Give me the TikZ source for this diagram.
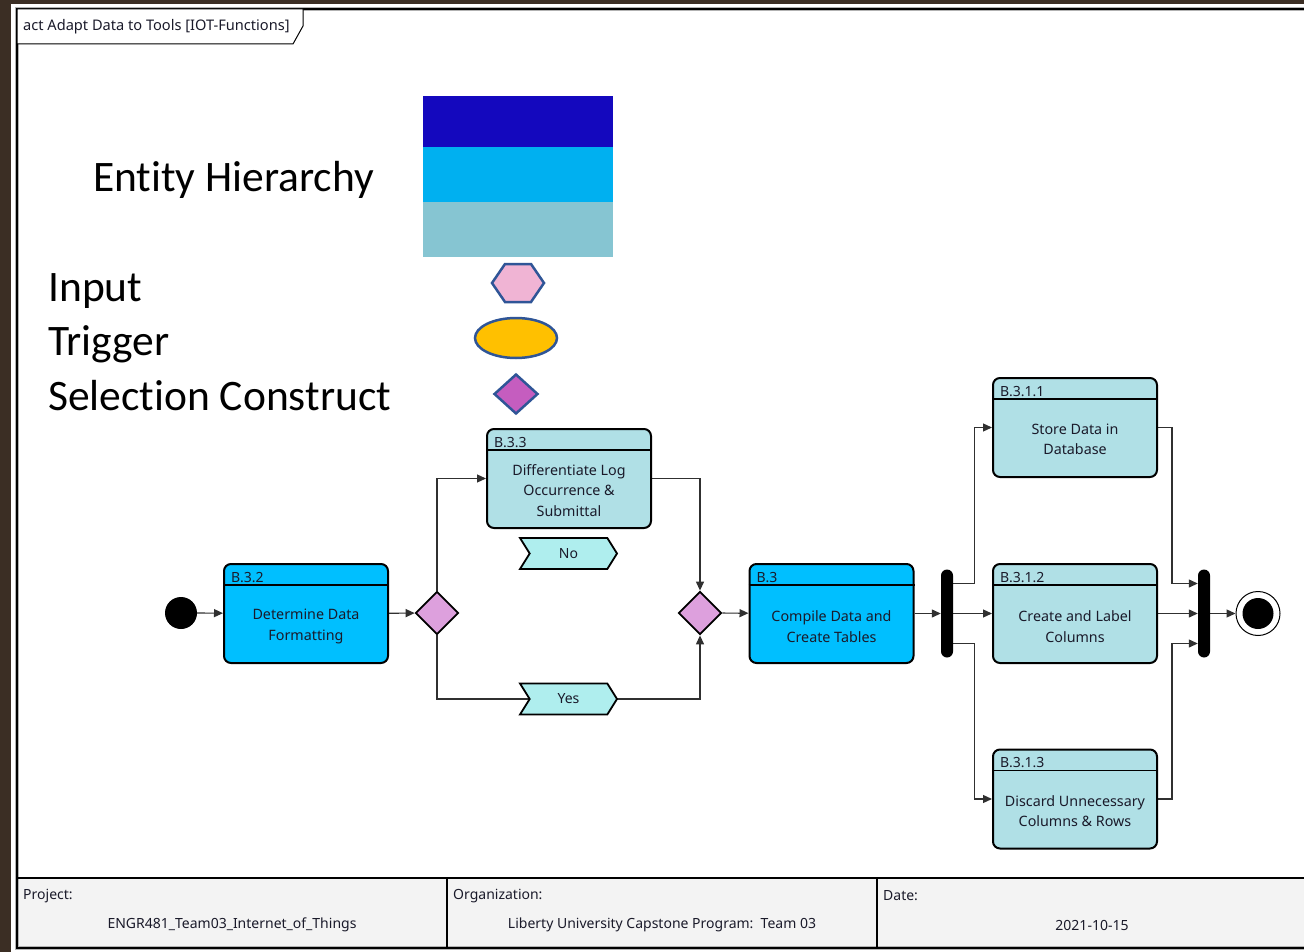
\documentclass[tikz,border=0pt]{standalone}
\usepackage{fontspec}
\setmainfont{Noto Sans}
\newfontfamily\calfont[Ligatures=NoCommon]{Carlito}
\usetikzlibrary{arrows.meta,shapes.geometric,shapes.symbols}
\definecolor{bgbrown}{HTML}{3B2E24}
\definecolor{actblue}{HTML}{00BFFF}
\definecolor{actlight}{HTML}{B0E0E6}
\definecolor{decfill}{HTML}{DDA0DD}
\definecolor{tagfill}{HTML}{AFEEEE}
\definecolor{legdark}{HTML}{1408BE}
\definecolor{legcyan}{HTML}{00B0F0}
\definecolor{legteal}{HTML}{86C5D2}
\definecolor{legpink}{HTML}{F0B4D4}
\definecolor{legedge}{HTML}{2F5597}
\definecolor{legyellow}{HTML}{FFC000}
\definecolor{legviolet}{HTML}{C55DBF}
\definecolor{txtcol}{HTML}{1A1A2A}
\definecolor{linecol}{HTML}{303030}
\definecolor{tbfill}{HTML}{F3F3F3}
\pgfdeclarelayer{back}
\pgfdeclarelayer{wires}
\pgfsetlayers{back,wires,main}
\tikzset{
  actbox/.style={draw=black, line width=2pt, rounded corners=7pt, minimum width=164pt, minimum height=99pt, inner sep=0pt},
  hdrline/.style={draw=black, line width=1.2pt},
  idlabel/.style={anchor=north west, inner sep=0pt, font=\fontsize{14}{16}\selectfont, text=txtcol},
  bodytxt/.style={align=center, inner sep=0pt, font=\fontsize{14.3}{20.5}\selectfont, text=txtcol},
  decision/.style={diamond, draw=black, line width=1.8pt, fill=decfill, minimum width=43pt, minimum height=43pt, inner sep=0pt, aspect=1},
  tagbox/.style={signal, signal to=east, signal from=west, signal pointer angle=116, draw=black, line width=1.8pt, fill=tagfill, minimum width=97pt, minimum height=31pt, inner sep=0pt, font=\fontsize{14}{16}\selectfont, text=txtcol},
  barnode/.style={fill=black, rounded corners=6pt, minimum width=12pt, minimum height=88pt, inner sep=0pt},
  conn/.style={draw=linecol, line width=1.2pt, -{Triangle[length=9pt,width=8pt]}},
  legtxt/.style={anchor=base west, inner sep=0pt, font=\calfont\fontsize{43.5}{48}\selectfont, text=black},
  tbtxt/.style={inner sep=0pt, font=\fontsize{14}{16}\selectfont, text=txtcol}
}
\begin{document}
\begin{tikzpicture}[x=1pt,y=-1pt]
\useasboundingbox (0,0) rectangle (1304,952);
\begin{pgfonlayer}{back}
\fill[bgbrown] (0,0) rectangle (1304,952);
\fill[white] (11,4) rectangle (1304,952);
\fill[tbfill] (17,878) rectangle (1304,948);
\draw[gray!60, line width=4pt] (1304,9) -- (17,9) -- (17,948) -- (1304,948);
\draw[black, line width=2pt] (1304,9) -- (17,9) -- (17,948) -- (1304,948);
\draw[black, line width=2pt] (17,878) -- (1304,878);
\draw[black, line width=2pt] (447,878) -- (447,948);
\draw[black, line width=2pt] (877,878) -- (877,948);
\draw[black, line width=1pt, fill=white] (17,9) -- (303,9) -- (303,26) -- (293,44) -- (17,44) -- cycle;
\end{pgfonlayer}
% title tab and title block
\node[anchor=west, inner sep=0pt, font=\fontsize{14.6}{16}\selectfont, text=txtcol] (title) at (23,27) {act Adapt Data to Tools [IOT-Functions]};
\node[tbtxt, anchor=west] (projl) at (23,896) {Project:};
\node[tbtxt] (projv) at (232,925) {ENGR481\_Team03\_Internet\_of\_Things};
\node[tbtxt, anchor=west] (orgl) at (453,896) {Organization:};
\node[tbtxt] (orgv) at (662,925) {Liberty University Capstone Program:\ \ Team 03};
\node[tbtxt, anchor=west] (datel) at (883,896) {Date:};
\node[tbtxt] (datev) at (1092,925) {2021-10-15};
% legend
\fill[legdark] (423,96) rectangle (613,147);
\fill[legcyan] (423,147) rectangle (613,202);
\fill[legteal] (423,202) rectangle (613,257);
\node[legtxt] (lent) at (93,192) {Entity Hierarchy};
\node[legtxt] (linp) at (48,301) {Input};
\node[legtxt] (ltrg) at (48,355) {Trigger};
\node[legtxt] (lsel) at (48,410) {Selection Construct};
\draw[legedge, line width=2.5pt, fill=legpink] (492,283) -- (505,264) -- (531,264) -- (544,283) -- (531,302) -- (505,302) -- cycle;
\node[ellipse, draw=legedge, line width=2.5pt, fill=legyellow, minimum width=82pt, minimum height=40pt, inner sep=0pt] (lell) at (516,338) {};
\node[diamond, draw=legedge, line width=2.5pt, fill=legviolet, minimum width=44pt, minimum height=40pt, inner sep=0pt] (ldia) at (516,394) {};
% activity nodes
\node[circle, fill=black, minimum size=32pt, inner sep=0pt] (init) at (181,613) {};
\node[actbox, fill=actblue] (b32) at (306,613.5) {};
\node[actbox, fill=actlight] (b33) at (569,478.5) {};
\node[actbox, fill=actblue] (b3) at (831.5,613.5) {};
\node[actbox, fill=actlight] (b311) at (1075,427.5) {};
\node[actbox, fill=actlight] (b312) at (1075,613.5) {};
\node[actbox, fill=actlight] (b313) at (1075,799) {};
\foreach \n in {b32,b33,b3,b311,b312,b313}{
  \draw[hdrline] ([yshift=-22pt]\n.north west) -- ([yshift=-22pt]\n.north east);
}
\node[idlabel] (b32id) at ([xshift=8pt,yshift=-9pt]b32.north west) {B.3.2};
\node[idlabel] (b33id) at ([xshift=8pt,yshift=-9pt]b33.north west) {B.3.3};
\node[idlabel] (b3id) at ([xshift=8pt,yshift=-9pt]b3.north west) {B.3};
\node[idlabel] (b311id) at ([xshift=8pt,yshift=-9pt]b311.north west) {B.3.1.1};
\node[idlabel] (b312id) at ([xshift=8pt,yshift=-9pt]b312.north west) {B.3.1.2};
\node[idlabel] (b313id) at ([xshift=8pt,yshift=-9pt]b313.north west) {B.3.1.3};
\node[bodytxt] (b32t) at ([yshift=-13pt]b32.center) {Determine Data\\Formatting};
\node[bodytxt] (b33t) at ([yshift=-12pt]b33.center) {Differentiate Log\\Occurrence \&\\Submittal};
\node[bodytxt] (b3t) at ([yshift=-13pt]b3.center) {Compile Data and\\Create Tables};
\node[bodytxt] (b311t) at ([yshift=-12pt]b311.center) {Store Data in\\Database};
\node[bodytxt] (b312t) at ([yshift=-13pt]b312.center) {Create and Label\\Columns};
\node[bodytxt] (b313t) at ([yshift=-12pt]b313.center) {Discard Unnecessary\\Columns \& Rows};
\node[decision] (d1) at (437,613) {};
\node[decision] (d2) at (700,613) {};
\node[tagbox] (no) at (568.5,553.5) {No};
\node[tagbox] (yes) at (568.5,699) {Yes};
\node[barnode] (fork) at (947,613.5) {};
\node[barnode] (join) at (1204,613.5) {};
\node[circle, draw=black, line width=1pt, fill=white, minimum size=44pt, inner sep=0pt] (final) at (1258,613.5) {};
\node[circle, fill=black, minimum size=31pt, inner sep=0pt] (finalin) at (final.center) {};
% connectors
\begin{pgfonlayer}{wires}
\draw[conn] (init) -- (b32);
\draw[conn] (b32) -- (d1);
\draw[conn] (d1.north) |- (b33.west);
\draw[conn] (b33.east) -| (d2.north);
\draw[conn] (d1.south) |- (yes.center) -| (d2.south);
\draw[conn] (d2) -- (b3);
\draw[conn] (b3) -- (fork);
\draw[conn] (fork) -- (b312);
\draw[conn] ([yshift=30pt]fork.east) -- ++(21,0) |- (b311.west);
\draw[conn] ([yshift=-30pt]fork.east) -- ++(21,0) |- (b313.west);
\draw[conn] (b311.east) -- ++(14,0) |- ([yshift=30pt]join.west);
\draw[conn] (b312) -- (join);
\draw[conn] (b313.east) -- ++(14,0) |- ([yshift=-30pt]join.west);
\draw[conn] (join) -- (final);
\end{pgfonlayer}
\end{tikzpicture}
\end{document}
